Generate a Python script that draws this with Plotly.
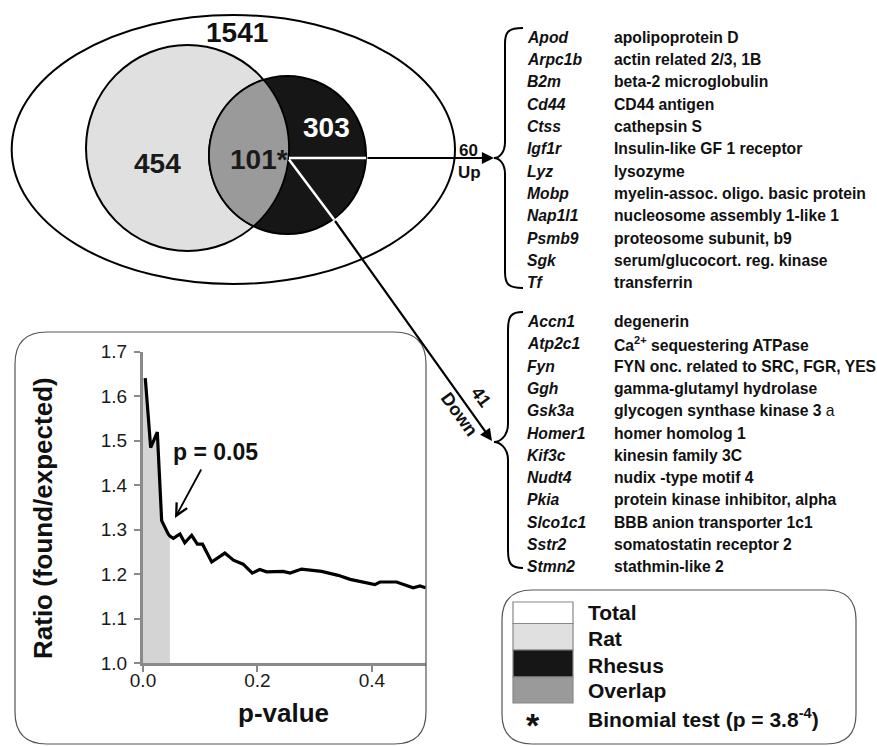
import numpy as np
import plotly.graph_objects as go

FONT = "Liberation Sans, Arial, Helvetica, sans-serif"
W, H = 877, 746

# ---------------- data ----------------
p_values = [0.004, 0.0134, 0.025, 0.0326, 0.044, 0.047, 0.053, 0.0646, 0.073, 0.085,
            0.095, 0.104, 0.12, 0.143, 0.158, 0.175, 0.191, 0.204, 0.216, 0.245,
            0.257, 0.277, 0.312, 0.341, 0.362, 0.382, 0.405, 0.414, 0.443, 0.472,
            0.484, 0.494]
ratios = [1.64, 1.484, 1.519, 1.32, 1.29, 1.285, 1.28, 1.29, 1.27, 1.287,
          1.267, 1.267, 1.227, 1.247, 1.231, 1.222, 1.202, 1.21, 1.205, 1.206,
          1.202, 1.211, 1.206, 1.197, 1.188, 1.182, 1.176, 1.182, 1.182, 1.169,
          1.173, 1.169]
shade_limit = 0.047

count_total = 1541
count_rat = 454
count_rhesus = 303
count_overlap = 101
count_up = 60
count_down = 41

up_genes = ["Apod", "Arpc1b", "B2m", "Cd44", "Ctss", "Igf1r", "Lyz", "Mobp",
            "Nap1l1", "Psmb9", "Sgk", "Tf"]
up_desc = ["apolipoprotein D", "actin related 2/3, 1B", "beta-2 microglobulin",
           "CD44 antigen", "cathepsin S", "Insulin-like GF 1 receptor", "lysozyme",
           "myelin-assoc. oligo. basic protein", "nucleosome assembly 1-like 1",
           "proteosome subunit, b9", "serum/glucocort. reg. kinase", "transferrin"]
down_genes = ["Accn1", "Atp2c1", "Fyn", "Ggh", "Gsk3a", "Homer1", "Kif3c", "Nudt4",
              "Pkia", "Slco1c1", "Sstr2", "Stmn2"]
down_desc = ["<b>degenerin</b>", "<b>Ca<sup>2+</sup> sequestering ATPase</b>",
             "<b>FYN onc. related to SRC, FGR, YES</b>", "<b>gamma-glutamyl hydrolase</b>",
             "<b>glycogen synthase kinase 3</b> a", "<b>homer homolog 1</b>",
             "<b>kinesin family 3C</b>", "<b>nudix -type motif 4</b>",
             "<b>protein kinase inhibitor, alpha</b>", "<b>BBB anion transporter 1c1</b>",
             "<b>somatostatin receptor 2</b>", "<b>stathmin-like 2</b>"]

legend_labels = ["Total", "Rat", "Rhesus", "Overlap"]
legend_colors = ["#ffffff", "#e0e0e0", "#161616", "#9a9a9a"]
binomial_text = "Binomial test (p = 3.8<sup>-4</sup>)"

# ---------------- figure ----------------
fig = go.Figure()
p_shade = [p for p in p_values if p <= shade_limit]
r_shade = ratios[:len(p_shade)]
fig.add_trace(go.Scatter(x=[0] + p_shade, y=[ratios[0]] + r_shade, mode="lines",
                         fill="tozeroy", fillcolor="#d4d4d4", line=dict(width=0),
                         hoverinfo="skip", showlegend=False))
fig.add_trace(go.Scatter(x=p_values, y=ratios, mode="lines",
                         line=dict(color="black", width=3.2), showlegend=False))
fig.add_trace(go.Scatter(x=[0], y=[0], xaxis="x2", yaxis="y2", mode="markers",
                         marker=dict(opacity=0), hoverinfo="skip", showlegend=False))

shapes = []
annotations = []

def px_shape(**kw):
    d = dict(xref="x2", yref="y2")
    d.update(kw)
    shapes.append(d)

def px_text(x, y, text, size, color="#111", xanchor="center", yanchor="middle", angle=0):
    annotations.append(dict(xref="x2", yref="y2", x=x, y=y, text=text, showarrow=False,
                            xanchor=xanchor, yanchor=yanchor, textangle=angle,
                            font=dict(family=FONT, size=size, color=color)))

def px_arrow(x0, y0, x1, y1, head, width, size=1.0, color="black"):
    annotations.append(dict(xref="x2", yref="y2", axref="x2", ayref="y2",
                            x=x1, y=y1, ax=x0, ay=y0, text="", showarrow=True,
                            arrowhead=head, arrowwidth=width, arrowsize=size,
                            arrowcolor=color, standoff=0, startstandoff=0))

def rounded_rect(x0, y0, x1, y1, r):
    return (f"M {x0+r},{y0} L {x1-r},{y0} Q {x1},{y0} {x1},{y0+r} "
            f"L {x1},{y1-r} Q {x1},{y1} {x1-r},{y1} L {x0+r},{y1} "
            f"Q {x0},{y1} {x0},{y1-r} L {x0},{y0+r} Q {x0},{y0} {x0+r},{y0} Z")

def brace(x_tip, y_tip, x_v, x_end, y_top, y_bot, r=16):
    return (f"M {x_end},{y_top} C {x_v+3},{y_top} {x_v},{y_top+4} {x_v},{y_top+r} "
            f"L {x_v},{y_tip-r} C {x_v},{y_tip-5} {x_tip+5},{y_tip} {x_tip},{y_tip} "
            f"C {x_tip+5},{y_tip} {x_v},{y_tip+5} {x_v},{y_tip+r} "
            f"L {x_v},{y_bot-r} C {x_v},{y_bot-4} {x_v+3},{y_bot} {x_end},{y_bot}")

# boxes
px_shape(type="path", path=rounded_rect(15, 332, 426, 744, 32),
         line=dict(color="#555", width=1.2), layer="below")
px_shape(type="path", path=rounded_rect(502, 590, 856, 744, 30),
         line=dict(color="#555", width=1.2), layer="below")

# Venn
px_shape(type="circle", x0=11.7, x1=455, y0=15, y1=284,
         line=dict(color="black", width=2), fillcolor="white")
ra = dict(cx=187.5, cy=148, rx=101.5, ry=103)
rb = dict(cx=287.5, cy=155, rx=78.5, ry=79)
px_shape(type="circle", x0=ra["cx"]-ra["rx"], x1=ra["cx"]+ra["rx"],
         y0=ra["cy"]-ra["ry"], y1=ra["cy"]+ra["ry"],
         line=dict(color="black", width=2), fillcolor=legend_colors[1])
px_shape(type="circle", x0=rb["cx"]-rb["rx"], x1=rb["cx"]+rb["rx"],
         y0=rb["cy"]-rb["ry"], y1=rb["cy"]+rb["ry"],
         line=dict(color="black", width=2), fillcolor=legend_colors[2])

def inside(e, x, y):
    return ((x-e["cx"])/e["rx"])**2 + ((y-e["cy"])/e["ry"])**2 <= 1

ta = np.linspace(-np.pi/2, np.pi/2, 400)
xa = ra["cx"] + ra["rx"]*np.cos(ta); ya = ra["cy"] + ra["ry"]*np.sin(ta)
ma = inside(rb, xa, ya)
tb = np.linspace(np.pi/2, 3*np.pi/2, 400)
xb = rb["cx"] + rb["rx"]*np.cos(tb); yb = rb["cy"] + rb["ry"]*np.sin(tb)
mb = inside(ra, xb, yb)
lx = np.concatenate([xa[ma], xb[mb]]); ly = np.concatenate([ya[ma], yb[mb]])
lens = "M " + " L ".join(f"{x:.2f},{y:.2f}" for x, y in zip(lx, ly)) + " Z"
px_shape(type="path", path=lens, fillcolor=legend_colors[3],
         line=dict(color="black", width=1.8))

px_shape(type="line", x0=289, y0=158, x1=366, y1=158, line=dict(color="white", width=2.5))
px_shape(type="line", x0=289, y0=159.5, x1=334, y1=219.5, line=dict(color="white", width=2.5))

px_arrow(366, 158, 494, 158, head=2, width=2.2, size=1.1)
px_arrow(334, 219.5, 492, 441, head=2, width=2.2, size=1.1)

px_shape(type="path", path=brace(494, 158, 505, 523, 28, 288),
         line=dict(color="black", width=2))
px_shape(type="path", path=brace(494, 442, 508, 523, 312, 568, r=18),
         line=dict(color="black", width=2))

px_text(237, 32, f"<b>{count_total}</b>", 28)
px_text(157.5, 163, f"<b>{count_rat}</b>", 28, color="#1a1a1a")
px_text(326, 127, f"<b>{count_rhesus}</b>", 28, color="white")
px_text(258.5, 159, f"<b>{count_overlap}*</b>", 28, color="#1a1a1a")
px_text(468, 150, f"<b>{count_up}</b>", 17)
px_text(469, 172, "<b>Up</b>", 17)
px_text(481, 397, f"<b>{count_down}</b>", 18, angle=54)
px_text(459, 414, "<b>Down</b>", 18, angle=54)

for i, (g, d) in enumerate(zip(up_genes, up_desc)):
    y = 37 + i*22.36
    px_text(525, y, f"<b><i>{g}</i></b>", 15.7, xanchor="left")
    px_text(611.5, y, f"<b>{d}</b>", 15.7, xanchor="left")
for i, (g, d) in enumerate(zip(down_genes, down_desc)):
    y = 321.7 + i*22.27
    px_text(525, y, f"<b><i>{g}</i></b>", 15.7, xanchor="left")
    px_text(611.5, y, d, 15.7, xanchor="left")

sw_rows = [(602, 623.5), (623.5, 650), (650, 677), (677, 703)]
lab_y = [612.5, 638.5, 665, 690]
for (y0, y1), c, lab, ly_ in zip(sw_rows, legend_colors, legend_labels, lab_y):
    px_shape(type="rect", x0=513, x1=573, y0=y0, y1=y1, fillcolor=c,
             line=dict(color="#888", width=1.2))
    px_text(586, ly_, f"<b>{lab}</b>", 21, xanchor="left")
px_text(533, 724.5, "<b>*</b>", 34)
px_text(586, 718, f"<b>{binomial_text}</b>", 21, xanchor="left")

px_text(43, 518, "<b>Ratio (found/expected)</b>", 26, angle=-90)
px_text(283, 713, "<b>p-value</b>", 26)
px_text(215, 452, "<b>p = 0.05</b>", 23)
px_arrow(202, 468, 175, 518, head=5, width=1.8, size=1.3)

axis_common = dict(showline=True, linecolor="#8a8a8a", linewidth=3, ticks="outside",
                   tickcolor="#8a8a8a", tickwidth=2, ticklen=6, showgrid=False,
                   zeroline=False, tickformat=".1f", automargin=False,
                   tickfont=dict(family=FONT, size=19, color="#1a1a1a"))

fig.update_layout(
    template="none",
    width=W, height=H, margin=dict(l=0, r=0, t=0, b=0, pad=0, autoexpand=False),
    autosize=False,
    paper_bgcolor="white", plot_bgcolor="rgba(0,0,0,0)",
    showlegend=False,
    xaxis=dict(domain=[143/W, 426/W], range=[0, 0.4945], tickvals=[0, 0.2, 0.4],
               anchor="y", ticklabelstandoff=-8, **axis_common),
    yaxis=dict(domain=[(H-663)/H, (H-351.5)/H], range=[1.0, 1.7], dtick=0.1,
               anchor="x", ticklabelstandoff=3, **axis_common),
    xaxis2=dict(domain=[0, 1], range=[0, W], visible=False, anchor="y2",
                fixedrange=True, automargin=False),
    yaxis2=dict(domain=[0, 1], range=[H, 0], visible=False, anchor="x2",
                fixedrange=True, automargin=False),
    shapes=shapes, annotations=annotations,
)

fig.write_html("out.html", config={"displayModeBar": False, "responsive": False},
               post_script="document.body.style.margin='0px';document.body.style.overflow='hidden';")
